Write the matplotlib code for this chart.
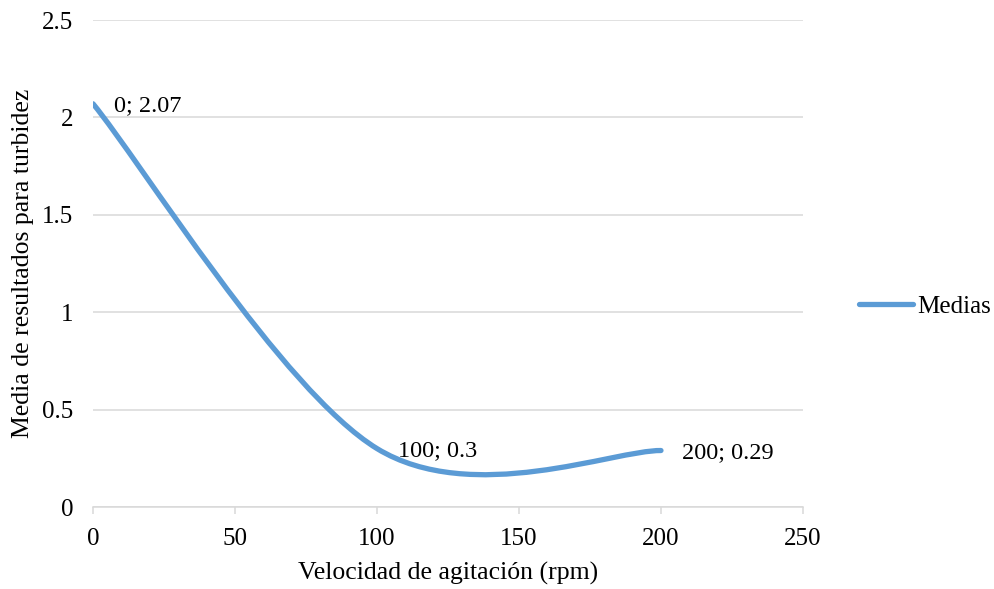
import matplotlib
matplotlib.use("Agg")
import matplotlib.pyplot as plt
from matplotlib.path import Path
from matplotlib.patches import PathPatch
from matplotlib.lines import Line2D
import numpy as np

# data
velocidad = [0, 100, 200]
medias = [2.07, 0.3, 0.29]
etiquetas = ["0; 2.07", "100; 0.3", "200; 0.29"]
x_ticks = [0, 50, 100, 150, 200, 250]
y_ticks = [0, 0.5, 1, 1.5, 2, 2.5]

plt.rcParams["font.family"] = ["Liberation Serif", "DejaVu Serif"]
line_color = "#5b9bd5"
grid_color = "#d9d9d9"

fig = plt.figure(figsize=(9.94, 5.89), dpi=100)
ax = fig.add_axes([0.0936, 0.1392, 0.7142, 0.8268])

# smoothed line like Excel (bezier segments through the points)
pts = np.array(list(zip(velocidad, medias)), dtype=float)
verts = [tuple(pts[0])]
codes = [Path.MOVETO]
n = len(pts)
for i in range(n - 1):
    p_prev = pts[i - 1] if i > 0 else pts[i]
    p_next = pts[i + 2] if i + 2 < n else pts[i + 1]
    c1 = pts[i] + (pts[i + 1] - p_prev) / 6
    c2 = pts[i + 1] - (p_next - pts[i]) / 6
    verts += [tuple(c1), tuple(c2), tuple(pts[i + 1])]
    codes += [Path.CURVE4] * 3
curve = PathPatch(Path(verts, codes), facecolor="none", edgecolor=line_color,
                  linewidth=3.8, capstyle="round", zorder=3)
ax.add_patch(curve)

for x, y, t in zip(velocidad, medias, etiquetas):
    ax.annotate(t, (x, y), xytext=(15, -1.5), textcoords="offset points",
                ha="left", va="center", fontsize=17.5, color="black", zorder=4)

ax.set_xlim(0, 250)
ax.set_ylim(0, 2.5)
ax.set_xticks(x_ticks)
ax.set_yticks(y_ticks)
ax.set_xticklabels([str(v) for v in x_ticks])
ax.set_yticklabels(["0", "0.5", "1", "1.5", "2", "2.5"])
ax.grid(axis="y", color=grid_color, linewidth=1.1)
ax.set_axisbelow(True)
for s in ["top", "right", "left"]:
    ax.spines[s].set_visible(False)
ax.spines["bottom"].set_color(grid_color)
ax.spines["bottom"].set_linewidth(1.1)
ax.tick_params(axis="x", colors=grid_color, length=5, width=1.1, labelcolor="black",
               labelsize=18, pad=10)
ax.tick_params(axis="y", length=0, labelsize=18, pad=14)

ax.set_xlabel("Velocidad de agitación (rpm)", fontsize=18.5, labelpad=9)
ax.set_ylabel("Media de resultados para turbidez", fontsize=18.5, labelpad=6)

proxy = Line2D([], [], color=line_color, linewidth=3.8, solid_capstyle="round")
fig.legend([proxy], ["Medias"], loc="center left", bbox_to_anchor=(0.864, 0.48),
           frameon=False, fontsize=18, handlelength=2.15, handletextpad=0.2,
           borderpad=0, borderaxespad=0)

fig.savefig("out.png", dpi=100)
